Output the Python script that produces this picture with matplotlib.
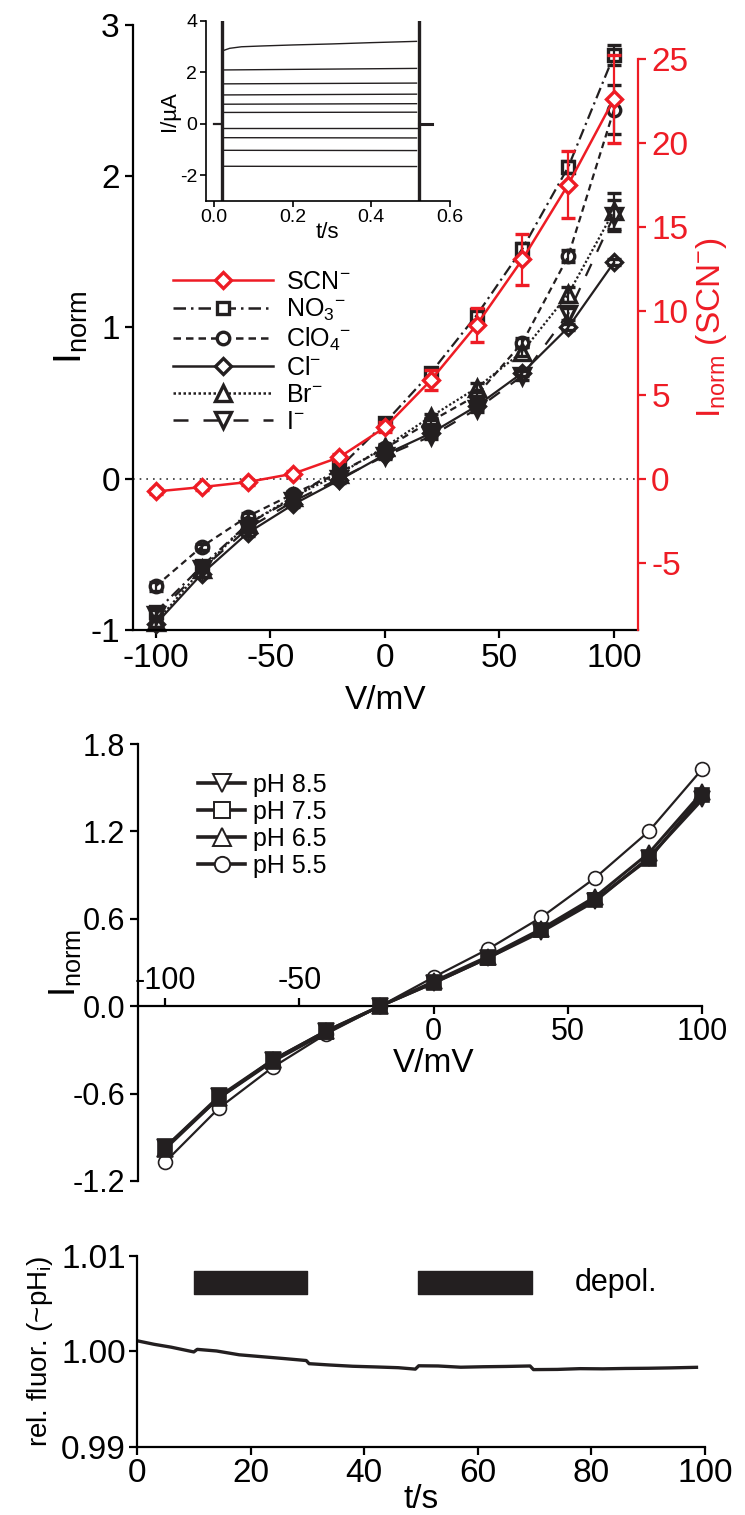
"""Anion selectivity, pH dependence and intracellular pH during depolarisation"""

import numpy as np
import matplotlib.pyplot as plt
from matplotlib.lines import Line2D
from matplotlib.legend_handler import HandlerLine2D

plt.rcParams['font.family'] = ['Liberation Sans', 'DejaVu Sans']
plt.rcParams['mathtext.fontset'] = 'custom'
plt.rcParams['mathtext.rm'] = 'Liberation Sans'
plt.rcParams['mathtext.it'] = 'Liberation Sans:italic'
plt.rcParams['mathtext.bf'] = 'Liberation Sans:bold'
plt.rcParams['axes.unicode_minus'] = False
plt.rcParams['axes.linewidth'] = 1.6
plt.rcParams['xtick.major.width'] = 1.6
plt.rcParams['ytick.major.width'] = 1.6
plt.rcParams['xtick.major.size'] = 6
plt.rcParams['ytick.major.size'] = 6

NARROW = ['Liberation Sans Narrow', 'Liberation Sans', 'DejaVu Sans']
RED = '#ee1c25'
INK = '#231f20'

# ---- anion I/V data (normalised current) ----
volts = [-100, -80, -60, -40, -20, 0, 20, 40, 60, 80, 100]
scn = [-0.76, -0.5, -0.2, 0.3, 1.27, 3.05, 5.85, 9.15, 13.05, 17.5, 22.6]      # right axis
scn_err = [0.15, 0.15, 0.15, 0.15, 0.2, 0.3, 0.6, 1.0, 1.5, 2.0, 2.6]
no3 = [-0.88, -0.58, -0.30, -0.13, 0.07, 0.37, 0.70, 1.08, 1.52, 2.06, 2.80]
no3_err = [0.03, 0.02, 0.02, 0.02, 0.02, 0.02, 0.02, 0.03, 0.04, 0.04, 0.065]
clo4 = [-0.71, -0.45, -0.25, -0.10, 0.04, 0.20, 0.38, 0.55, 0.90, 1.47, 2.44]
clo4_err = [0.03, 0.02, 0.02, 0.02, 0.02, 0.02, 0.02, 0.02, 0.03, 0.04, 0.16]
cl = [-0.96, -0.63, -0.36, -0.17, -0.01, 0.16, 0.30, 0.48, 0.70, 1.00, 1.43]
cl_err = [0.02, 0.02, 0.02, 0.02, 0.02, 0.02, 0.02, 0.02, 0.02, 0.02, 0.02]
br = [-0.95, -0.60, -0.30, -0.12, 0.03, 0.21, 0.41, 0.60, 0.84, 1.22, 1.77]
br_err = [0.03, 0.02, 0.02, 0.02, 0.02, 0.02, 0.02, 0.03, 0.03, 0.05, 0.12]
iod = [-0.90, -0.60, -0.33, -0.15, 0.00, 0.15, 0.28, 0.46, 0.68, 1.09, 1.74]
iod_err = [0.03, 0.02, 0.02, 0.02, 0.02, 0.02, 0.02, 0.02, 0.03, 0.04, 0.10]

# ---- example current traces (inset) ----
pulse_on = 0.02
pulse_off = 0.52
step_start = [2.09, 1.55, 1.12, 0.76, 0.44, -0.17, -0.54, -1.03, -1.65]
step_end = [2.15, 1.58, 1.15, 0.78, 0.45, -0.17, -0.55, -1.04, -1.66]
top_t = [0.025, 0.04, 0.07, 0.12, 0.2, 0.3, 0.4, 0.515]
top_i = [2.85, 2.93, 2.99, 3.02, 3.06, 3.10, 3.15, 3.20]

# ---- pH dependence ----
ph_labels = ['pH 8.5', 'pH 7.5', 'pH 6.5', 'pH 5.5']
ph85 = [-0.97, -0.62, -0.37, -0.17, 0.0, 0.16, 0.33, 0.51, 0.72, 1.02, 1.42]
ph75 = [-0.97, -0.63, -0.38, -0.18, 0.0, 0.16, 0.33, 0.52, 0.73, 1.01, 1.45]
ph65 = [-0.98, -0.63, -0.37, -0.17, 0.0, 0.17, 0.34, 0.53, 0.75, 1.05, 1.47]
ph55 = [-1.07, -0.70, -0.42, -0.19, 0.0, 0.20, 0.39, 0.61, 0.88, 1.20, 1.63]

# ---- intracellular pH during depolarisation ----
fl_t = [0, 3, 6, 9.6, 10.0, 10.6, 14, 18, 22, 26, 29.8, 30.3, 34, 38, 42, 46, 49.0,
        49.6, 53, 57, 61, 65, 69.2, 69.8, 74, 78, 82, 86, 90, 94, 98.5]
fl_val = [1.00112, 1.00075, 1.00045, 1.00000, 0.99995, 1.00022, 1.00005, 0.99965,
          0.99945, 0.99925, 0.99905, 0.99872, 0.99858, 0.99845, 0.99838, 0.99830,
          0.99815, 0.99850, 0.99848, 0.99835, 0.99840, 0.99843, 0.99848, 0.99810,
          0.99812, 0.99820, 0.99818, 0.99822, 0.99824, 0.99828, 0.99834]
depol_start = [10, 49.5]
depol_len = [20, 20]


class EndMarkerHandler(HandlerLine2D):
    "legend line with the marker sitting at its right end"
    def get_xdata(self, legend, xdescent, ydescent, width, height, fontsize):
        xdata = np.array([-xdescent, -xdescent + width])
        return xdata, np.array([-xdescent + width])


fig = plt.figure(figsize=(7.45, 15.15), dpi=100)

# ================= top panel =================
ax = fig.add_axes([0.1785, 0.5842, 0.6779, 0.3993])
ax2 = ax.twinx()

ax.axhline(0, color='#333333', lw=1.2, ls=(0, (1, 3)), zorder=1)

series = [
    (no3, no3_err, 's', (0, (5, 2, 1, 2)), 9),
    (clo4, clo4_err, 'o', (0, (3, 2)), 9),
    (cl, cl_err, 'D', '-', 8.5),
    (br, br_err, '^', (0, (1, 1)), 11),
    (iod, iod_err, 'v', (0, (6, 6)), 11),
]
for vals, err, mk, ls, ms in series:
    ax.errorbar(volts, vals, yerr=err, color=INK, ls=ls, lw=1.6,
                marker=mk, ms=ms, mfc='none', mec=INK, mew=2.4,
                capsize=5, elinewidth=1.6, capthick=1.6, clip_on=False)

ax2.errorbar(volts, scn, yerr=scn_err, color=RED, lw=1.8, marker='D', ms=8.5,
             mfc='white', mec=RED, mew=2.4, capsize=5, elinewidth=1.6,
             capthick=1.6, clip_on=False, zorder=5)

ax.set_xlim(-110, 110.5)
ax.set_ylim(-1, 3)
ax2.set_ylim(-9, 27)
ax.set_xticks([-100, -50, 0, 50, 100])
ax.set_yticks([-1, 0, 1, 2, 3])
ax2.set_yticks([-5, 0, 5, 10, 15, 20, 25])
for side in ['top', 'right']:
    ax.spines[side].set_visible(False)
for side in ['top', 'left']:
    ax2.spines[side].set_visible(False)
ax2.spines['bottom'].set_visible(False)
ax2.spines['right'].set_color(RED)
ax2.spines['right'].set_bounds(-9, 25)
ax2.tick_params(axis='y', colors=RED, labelsize=24, width=1.6, length=6)
ax.tick_params(labelsize=24)
ax.set_ylabel(r'I$_{\rm norm}$', fontsize=28, labelpad=0)
ax.set_xlabel('V/mV', fontsize=24, labelpad=8)
ax2.set_ylabel(r'I$_{\rm norm}$ (SCN$^{-}$)', fontsize=24, color=RED, labelpad=4)
ax2.set_zorder(ax.get_zorder() + 1)
ax2.patch.set_visible(False)

leg_handles = [
    Line2D([], [], color=RED, lw=1.8, marker='D', ms=8.5, mfc='white', mec=RED, mew=2.4),
    Line2D([], [], color=INK, lw=1.8, ls=(0, (5, 2, 1, 2)), marker='s', ms=9, mfc='white', mew=2.4),
    Line2D([], [], color=INK, lw=1.8, ls=(0, (3, 2)), marker='o', ms=9, mfc='white', mew=2.4),
    Line2D([], [], color=INK, lw=1.8, ls='-', marker='D', ms=8.5, mfc='white', mew=2.4),
    Line2D([], [], color=INK, lw=1.8, ls=(0, (1, 1)), marker='^', ms=11, mfc='white', mew=2.4),
    Line2D([], [], color=INK, lw=1.8, ls=(0, (6, 6)), marker='v', ms=11, mfc='white', mew=2.4),
]
leg_labels = [r'SCN$^{-}$', r'NO$_3$$^{-}$', r'ClO$_4$$^{-}$', r'Cl$^{-}$', r'Br$^{-}$', r'I$^{-}$']
ax.legend(leg_handles, leg_labels, loc='upper left', bbox_to_anchor=(0.06, 0.612),
          frameon=False, fontsize=18, handlelength=4.0, handletextpad=0.5,
          labelspacing=0.12, borderaxespad=0,
          handler_map={Line2D: EndMarkerHandler(numpoints=1)})

# inset with raw current traces
axin = fig.add_axes([0.2761, 0.8673, 0.3279, 0.1190])
axin.plot(top_t, top_i, color=INK, lw=1.0)
for s0, s1 in zip(step_start, step_end):
    axin.plot([0.025, 0.515], [s0, s1], color=INK, lw=1.0)
axin.plot([0.0, pulse_on], [0, 0], color=INK, lw=1.6)
axin.plot([pulse_off, 0.555], [0, 0], color=INK, lw=2.2)
axin.axvline(pulse_on, color=INK, lw=2.4)
axin.axvline(pulse_off, color=INK, lw=2.4)
axin.set_xlim(-0.021, 0.6)
axin.set_ylim(-3, 4)
axin.set_xticks([0.0, 0.2, 0.4, 0.6])
axin.set_yticks([-2, 0, 2, 4])
axin.xaxis.set_major_formatter(plt.FormatStrFormatter('%.1f'))
axin.tick_params(labelsize=14, width=1.2, length=4, pad=2)
for side in ['top', 'right']:
    axin.spines[side].set_visible(False)
for side in ['left', 'bottom']:
    axin.spines[side].set_linewidth(1.2)
axin.set_xlabel('t/s', fontsize=16, labelpad=-3)
axin.set_ylabel('I/\u00b5A', fontsize=16, labelpad=0)
axin.patch.set_visible(False)

# ================= middle panel =================
bx = fig.add_axes([0.1856, 0.2205, 0.7573, 0.2884])
bx.errorbar(volts, ph55, yerr=0.02, color=INK, lw=1.6, marker='o', ms=10,
            mfc='white', mec=INK, mew=1.2, capsize=3, elinewidth=0.8,
            clip_on=False, zorder=3)
for vals, mk, ms in [(ph85, 'v', 11), (ph75, 's', 9.5), (ph65, '^', 11)]:
    bx.plot(volts, vals, color=INK, lw=2.2, marker=mk, ms=ms, mfc=INK,
            mec=INK, mew=1.2, clip_on=False, zorder=4)

bx.set_xlim(-110, 100)
bx.set_ylim(-1.2, 1.8)
bx.set_yticks([-1.2, -0.6, 0.0, 0.6, 1.2, 1.8])
bx.yaxis.set_major_formatter(plt.FormatStrFormatter('%.1f'))
bx.set_xticks([0, 50, 100])
bx.spines['bottom'].set_position(('data', 0))
bx.spines['bottom'].set_bounds(-110, 100)
for side in ['top', 'right']:
    bx.spines[side].set_visible(False)
bx.tick_params(labelsize=22)
bx.tick_params(axis='x', pad=2)
bx.set_ylabel(r'I$_{\rm norm}$', fontsize=26, labelpad=-8)
bx.text(0, -0.29, 'V/mV', fontsize=24, ha='center', va='top')

# negative voltages labelled above the axis
bx_top = bx.twiny()
bx_top.set_xlim(bx.get_xlim())
bx_top.set_xticks([-100, -50])
bx_top.spines['top'].set_position(('data', 0))
for side in ['top', 'bottom', 'left', 'right']:
    bx_top.spines[side].set_visible(False)
bx_top.tick_params(labelsize=22, pad=1)

ph_handles = [
    Line2D([], [], color=INK, lw=2.6, marker='v', ms=13, mfc='white', mew=1.4),
    Line2D([], [], color=INK, lw=2.6, marker='s', ms=11, mfc='white', mew=1.4),
    Line2D([], [], color=INK, lw=2.6, marker='^', ms=13, mfc='white', mew=1.4),
    Line2D([], [], color=INK, lw=2.6, marker='o', ms=11, mfc='white', mew=1.4),
]
bx.legend(ph_handles, ph_labels, loc='upper left', bbox_to_anchor=(0.088, 0.956),
          frameon=False, fontsize=18, handlelength=1.9, handletextpad=0.3,
          labelspacing=0.12, borderaxespad=0, numpoints=1)

# ================= bottom panel =================
cx = fig.add_axes([0.1839, 0.0449, 0.7624, 0.1261])
cx.plot(fl_t, fl_val, color=INK, lw=2.4)
cx.broken_barh(list(zip(depol_start, depol_len)), (1.0060, 0.0024), color=INK)
cx.text(77, 1.0072, 'depol.', fontsize=22, family=NARROW, va='center', ha='left')
cx.set_xlim(0, 100)
cx.set_ylim(0.99, 1.01)
cx.set_xticks([0, 20, 40, 60, 80, 100])
cx.set_yticks([0.99, 1.00, 1.01])
cx.yaxis.set_major_formatter(plt.FormatStrFormatter('%.2f'))
for side in ['top', 'right']:
    cx.spines[side].set_visible(False)
cx.tick_params(labelsize=24, pad=2)
for lab in cx.get_xticklabels() + cx.get_yticklabels():
    lab.set_family(NARROW)
cx.set_xlabel('t/s', fontsize=24, family=NARROW, labelpad=-4)
cx.set_ylabel(r'rel. fluor. (~pH$_{\rm i}$)', fontsize=20, family=NARROW, labelpad=4)

fig.savefig('out.png', dpi=100)
